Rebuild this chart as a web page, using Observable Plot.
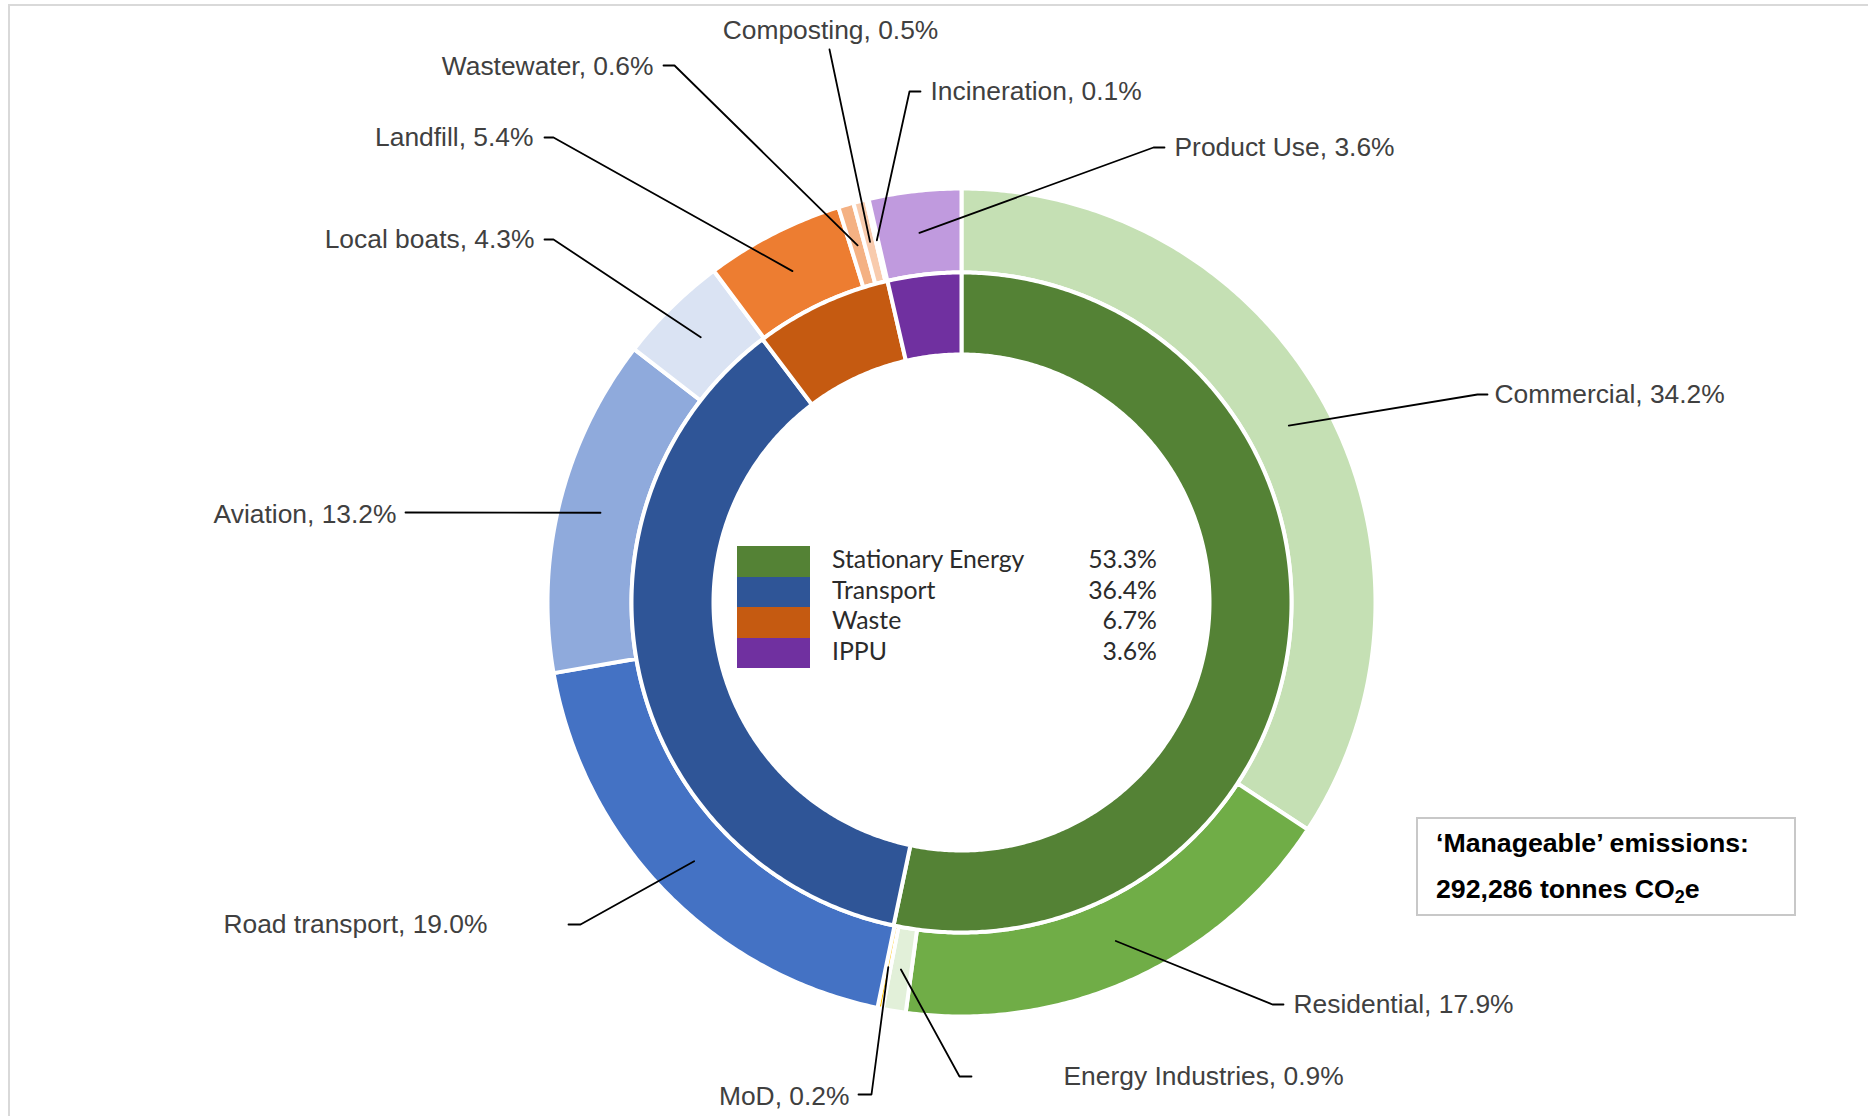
<!DOCTYPE html>
<html>
<head>
<meta charset="utf-8">
<script src="https://cdn.jsdelivr.net/npm/d3@7"></script>
<script src="https://cdn.jsdelivr.net/npm/@observablehq/plot@0.6"></script>
<style>
  html, body { margin: 0; padding: 0; background: #fff; }
  #wrap { position: relative; width: 1868px; height: 1116px; overflow: hidden; background: #fff; }
  #chart { position: absolute; left: 0; top: 0; }
  #frame { position: absolute; left: 8px; top: 4px; right: -20px; bottom: -20px;
           border-left: 2px solid #d9d9d9; border-top: 2px solid #d9d9d9; pointer-events: none; }
  #legend { position: absolute; left: 737px; top: 546px; font-family: Lato, "Noto Sans", sans-serif;
            font-size: 24.8px; color: #2b2b2b; }
  .lrow { position: relative; height: 30.5px; width: 420px; }
  .lsw { position: absolute; left: 0; top: 0; width: 73px; height: 30.5px; }
  .lname { position: absolute; left: 95px; top: -2px; line-height: 30.5px; white-space: nowrap; }
  .lval { position: absolute; right: 0; top: -2px; line-height: 30.5px; text-align: right; }
  #box { position: absolute; left: 1416px; top: 817px; width: 376px; height: 95px;
         border: 2px solid #c8c8c8; font-family: "Liberation Sans", Arial, sans-serif;
         font-weight: bold; font-size: 26.7px; color: #000; }
  #box .t1, #box .t2 { position: absolute; left: 18px; white-space: nowrap; line-height: 30px; }
  #box .t1 { top: 9px; }
  #box .t2 { top: 55px; }
  #box sub { font-size: 18px; vertical-align: -5px; line-height: 0; }
</style>
</head>
<body>
<div id="wrap">
  <div id="chart"></div>
  <div id="legend"></div>
  <div id="box">
    <div class="t1">‘Manageable’ emissions:</div>
    <div class="t2">292,286 tonnes CO<sub>2</sub>e</div>
  </div>
  <div id="frame"></div>
</div>
<script>
// ---------------- DATA ----------------
const innerCategories = ["Stationary Energy", "Transport", "Waste", "IPPU"];
const innerValues = [53.3, 36.4, 6.7, 3.6];
const innerColors = ["#548235", "#2F5597", "#C55A11", "#7030A0"];

const outerCategories = ["Commercial", "Residential", "Energy Industries", "MoD",
  "Road transport", "Aviation", "Local boats",
  "Landfill", "Wastewater", "Composting", "Incineration",
  "Product Use"];
const outerValues = [34.2, 17.9, 0.9, 0.2, 19.0, 13.2, 4.3, 5.4, 0.6, 0.5, 0.1, 3.6];
const outerColors = ["#C5E0B4", "#70AD47", "#E2F0D9", "#FFC000",
  "#4472C4", "#8FAADC", "#DAE3F3",
  "#ED7D31", "#F4B183", "#F8CBAD", "#FBE5D6",
  "#C09ADE"];

// ---------------- LAYOUT ----------------
const W = 1868, H = 1116;
const CX = 961, CY = 602;          // donut centre (px)
const R_OUT = 414, R_MID = 330, R_IN = 248;
const R_LEADER = (R_MID + R_OUT) / 2;

// label placement (manual, as in the original): elbow of leader, end of short tick, text anchor
const labelLayout = [
  {name: "Commercial",        elbow: [1477, 394], tick: [1487, 394], text: [1494, 394], anchor: "start"},
  {name: "Residential",       elbow: [1272, 1004], tick: [1283, 1004], text: [1293, 1004], anchor: "start"},
  {name: "Energy Industries", elbow: [959, 1076], tick: [971, 1076], text: [1063, 1076], anchor: "start"},
  {name: "MoD",               elbow: [871, 1094], tick: [858, 1094], text: [849, 1096], anchor: "end"},
  {name: "Road transport",    elbow: [580, 924], tick: [568, 924], text: [487, 924], anchor: "end"},
  {name: "Aviation",          elbow: [405, 512], tick: null, text: [396, 514], anchor: "end"},
  {name: "Local boats",       elbow: [553, 239], tick: [544, 239], text: [534, 239], anchor: "end"},
  {name: "Landfill",          elbow: [553, 137], tick: [544, 137], text: [533, 137], anchor: "end"},
  {name: "Wastewater",        elbow: [674, 65], tick: [663, 65], text: [653, 66], anchor: "end"},
  {name: "Composting",        elbow: [829, 49], tick: null, text: [830, 30], anchor: "middle"},
  {name: "Incineration",      elbow: [909, 91], tick: [920, 91], text: [930, 91], anchor: "start"},
  {name: "Product Use",       elbow: [1153, 147], tick: [1164, 147], text: [1174, 147], anchor: "start"}
];

// ---------------- GEOMETRY FROM DATA ----------------
function ring(names, values, r0, r1) {
  const total = d3.sum(values);
  let acc = 0;
  const pts = [], mids = new Map();
  names.forEach((name, i) => {
    const a0 = acc / total * 2 * Math.PI;
    acc += values[i];
    const a1 = acc / total * 2 * Math.PI;
    const n = Math.max(2, Math.ceil((a1 - a0) / (Math.PI / 360)));
    for (let k = 0; k <= n; k++) {
      const a = a0 + (a1 - a0) * k / n;
      pts.push({name, x: CX + r1 * Math.sin(a), y: CY - r1 * Math.cos(a)});
    }
    for (let k = n; k >= 0; k--) {
      const a = a0 + (a1 - a0) * k / n;
      pts.push({name, x: CX + r0 * Math.sin(a), y: CY - r0 * Math.cos(a)});
    }
    mids.set(name, (a0 + a1) / 2);
  });
  return {pts, mids};
}

const inner = ring(innerCategories, innerValues, R_IN, R_MID);
const outer = ring(outerCategories, outerValues, R_MID, R_OUT);

const valueOf = new Map(outerCategories.map((c, i) => [c, outerValues[i]]));

const leaderPts = [];
const labelData = [];
for (const L of labelLayout) {
  const a = outer.mids.get(L.name);
  leaderPts.push({name: L.name, x: CX + R_LEADER * Math.sin(a), y: CY - R_LEADER * Math.cos(a)});
  leaderPts.push({name: L.name, x: L.elbow[0], y: L.elbow[1]});
  if (L.tick) leaderPts.push({name: L.name, x: L.tick[0], y: L.tick[1]});
  labelData.push({name: L.name, x: L.text[0], y: L.text[1], anchor: L.anchor,
                  label: `${L.name}, ${valueOf.get(L.name).toFixed(1)}%`});
}

const labelFont = {fontSize: 26.4, fill: "#404040", fontFamily: "'Liberation Sans', Arial, sans-serif"};

const chart = Plot.plot({
  width: W, height: H, margin: 0,
  style: {background: "transparent"},
  x: {domain: [0, W], range: [0, W], axis: null},
  y: {domain: [0, H], range: [0, H], axis: null},
  color: {domain: [...innerCategories, ...outerCategories], range: [...innerColors, ...outerColors]},
  marks: [
    Plot.line(outer.pts, {x: "x", y: "y", z: "name", fill: "name", stroke: "white", strokeWidth: 4, curve: "linear-closed"}),
    Plot.line(inner.pts, {x: "x", y: "y", z: "name", fill: "name", stroke: "white", strokeWidth: 4, curve: "linear-closed"}),
    Plot.line(leaderPts, {x: "x", y: "y", z: "name", stroke: "black", strokeWidth: 1.8}),
    Plot.text(labelData.filter(d => d.anchor === "start"), {x: "x", y: "y", text: "label", textAnchor: "start", ...labelFont}),
    Plot.text(labelData.filter(d => d.anchor === "end"), {x: "x", y: "y", text: "label", textAnchor: "end", ...labelFont}),
    Plot.text(labelData.filter(d => d.anchor === "middle"), {x: "x", y: "y", text: "label", textAnchor: "middle", ...labelFont})
  ]
});
document.getElementById("chart").appendChild(chart);

// ---------------- CENTRE LEGEND ----------------
const legend = document.getElementById("legend");
innerCategories.forEach((c, i) => {
  const row = document.createElement("div");
  row.className = "lrow";
  row.innerHTML = `<div class="lsw" style="background:${innerColors[i]}"></div>` +
    `<div class="lname">${c}</div><div class="lval">${innerValues[i].toFixed(1)}%</div>`;
  legend.appendChild(row);
});
</script>
</body>
</html>
